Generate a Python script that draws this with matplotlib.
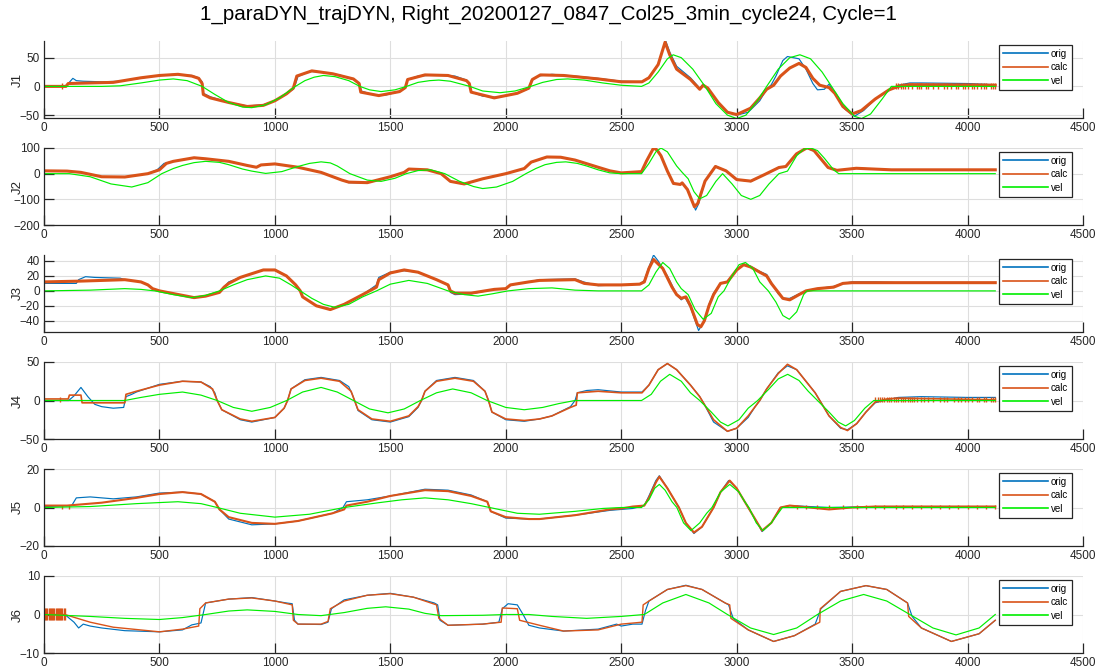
import numpy as np
import matplotlib.pyplot as plt

plt.rcParams['font.family'] = ['Liberation Sans', 'DejaVu Sans']

title = '1_paraDYN_trajDYN, Right_20200127_0847_Col25_3min_cycle24, Cycle=1'
joint_names = ['J1', 'J2', 'J3', 'J4', 'J5', 'J6']
ylims = [(-55, 79), (-200, 100), (-55, 48), (-50, 50), (-20, 20), (-10, 10)]
yticks = [[-50, 0, 50], [-200, -100, 0, 100], [-40, -20, 0, 20, 40],
          [-50, 0, 50], [-20, 0, 20], [-10, 0, 10]]
xticks = [0, 500, 1000, 1500, 2000, 2500, 3000, 3500, 4000, 4500]

# ---- J1 ----
j1_orig = [(0, 0), (95, 0), (105, 5), (125, 14), (140, 10), (170, 9), (250, 8), (330, 9), (430, 15),
           (500, 19), (560, 21), (640, 19), (670, 15), (685, 8), (690, -12), (720, -18), (800, -28),
           (880, -34), (950, -32), (1000, -25), (1050, -12), (1080, -5), (1090, 5), (1100, 17),
           (1150, 26), (1200, 25), (1280, 20), (1340, 12), (1365, 5), (1375, -8), (1420, -14),
           (1480, -15), (1540, -9), (1565, -3), (1575, 12), (1620, 18), (1700, 20), (1780, 18),
           (1830, 11), (1845, 3), (1852, -10), (1900, -17), (1960, -19), (2040, -13), (2100, -4),
           (2110, 10), (2140, 18), (2200, 21), (2300, 18), (2400, 14), (2500, 9), (2590, 8),
           (2620, 16), (2660, 38), (2692, 80), (2710, 60), (2740, 35), (2800, 15), (2840, -3),
           (2855, 4), (2880, -8), (2920, -30), (2960, -45), (3000, -50), (3050, -45), (3100, -25),
           (3130, -5), (3150, 3), (3170, 18), (3200, 45), (3220, 52), (3270, 48), (3300, 30),
           (3330, 5), (3350, -6), (3380, -5), (3400, 4), (3430, -15), (3470, -40), (3510, -52),
           (3550, -42), (3600, -22), (3650, -8), (3700, 2), (3750, 6), (3800, 6), (4000, 5), (4120, 3)]
j1_calc = [(0, 0), (95, 0), (105, 5), (200, 6), (300, 7), (420, 15), (500, 19), (580, 21), (640, 18),
           (670, 14), (685, 5), (690, -14), (720, -20), (800, -28), (880, -35), (950, -33), (1000, -25),
           (1050, -13), (1080, -3), (1095, 18), (1160, 27), (1250, 22), (1340, 13), (1365, 5),
           (1372, -10), (1450, -16), (1540, -9), (1565, -2), (1575, 12), (1650, 20), (1750, 19),
           (1830, 10), (1842, 5), (1850, -10), (1950, -20), (2050, -12), (2100, -3), (2115, 12),
           (2150, 20), (2250, 19), (2400, 13), (2500, 8), (2590, 8), (2620, 15), (2660, 38), (2690, 77),
           (2710, 55), (2740, 30), (2800, 12), (2840, -5), (2855, 2), (2875, -3), (2920, -28),
           (2960, -45), (3000, -49), (3060, -38), (3100, -20), (3130, -5), (3160, 2), (3190, 18),
           (3230, 32), (3270, 40), (3300, 33), (3330, 14), (3360, 2), (3400, -2), (3425, -12),
           (3460, -35), (3500, -48), (3540, -42), (3600, -22), (3660, -6), (3700, 0), (3750, 3),
           (4120, 2)]
j1_vel = [(0, 0), (250, 0), (330, 1), (420, 6), (500, 11), (560, 13), (620, 10), (685, 0), (740, -14),
          (800, -28), (860, -36), (900, -37), (960, -32), (1020, -20), (1089, 0), (1130, 10),
          (1170, 16), (1210, 19), (1260, 17), (1320, 10), (1368, 0), (1410, -6), (1460, -9),
          (1520, -6), (1570, 0), (1620, 7), (1670, 10), (1710, 11), (1760, 9), (1844, 0), (1900, -8),
          (1975, -11), (2040, -8), (2108, 0), (2160, 7), (2220, 12), (2268, 13), (2340, 11),
          (2420, 6), (2500, 2), (2588, 0), (2620, 6), (2660, 25), (2700, 48), (2725, 55), (2760, 50),
          (2810, 30), (2863, 0), (2910, -30), (2960, -50), (3000, -56), (3040, -50), (3090, -25),
          (3130, 0), (3180, 30), (3230, 50), (3274, 55), (3320, 48), (3370, 25), (3411, 0),
          (3460, -30), (3510, -52), (3541, -56), (3580, -48), (3630, -22), (3670, 0), (4120, 0)]
j1_spikes = [80, 3690, 3700, 3710, 3720, 3730, 3740, 3760, 3780, 3790, 3800, 3820, 3830, 3850, 3870,
             3900, 3910, 3930, 3950, 3960, 3980, 3990, 4000, 4020, 4030, 4040, 4060, 4070, 4080,
             4100, 4110, 4120]
j1_spike_range = (-5, 6)

# ---- J2 ----
j2_orig = [(0, 11), (100, 10), (160, 5), (250, -12), (350, -13), (450, 0), (490, 15), (520, 40),
           (560, 48), (650, 62), (700, 58), (800, 48), (880, 32), (920, 24), (940, 34), (1000, 38),
           (1100, 25), (1200, 5), (1290, -25), (1320, -35), (1400, -36), (1500, -12), (1560, 5),
           (1580, 18), (1660, 15), (1720, 0), (1760, -30), (1820, -42), (1900, -20), (2000, 0),
           (2080, 20), (2110, 45), (2178, 65), (2238, 64), (2300, 53), (2400, 25), (2451, 11),
           (2500, 3), (2588, 8), (2610, 50), (2640, 103), (2655, 95), (2672, 70), (2700, 10),
           (2726, -40), (2756, -42), (2764, -36), (2787, -62), (2822, -142), (2835, -118),
           (2863, -29), (2908, 30), (2954, 11), (3000, -23), (3061, -31), (3122, -3), (3183, 24),
           (3213, 28), (3259, 77), (3300, 100), (3335, 88), (3396, 24), (3434, 13), (3518, 22),
           (3670, 15), (4120, 15)]
j2_calc = [(0, 11), (100, 10), (160, 5), (250, -12), (350, -13), (450, 0), (500, 15), (530, 40),
           (560, 48), (650, 62), (700, 58), (800, 48), (880, 32), (920, 25), (940, 34), (1000, 38),
           (1100, 25), (1200, 5), (1290, -25), (1320, -33), (1400, -35), (1500, -12), (1560, 5),
           (1580, 18), (1660, 15), (1720, 0), (1760, -30), (1820, -40), (1900, -20), (2000, 0),
           (2080, 20), (2110, 45), (2178, 65), (2238, 64), (2300, 53), (2400, 25), (2451, 11),
           (2500, 3), (2588, 8), (2610, 50), (2640, 100), (2655, 92), (2672, 70), (2700, 10),
           (2726, -38), (2756, -42), (2764, -36), (2787, -62), (2817, -129), (2832, -115),
           (2863, -29), (2908, 28), (2954, 11), (3000, -23), (3061, -29), (3122, -3), (3183, 24),
           (3213, 28), (3259, 77), (3305, 101), (3335, 90), (3396, 24), (3434, 13), (3518, 21),
           (3670, 15), (4120, 15)]
j2_vel = [(0, 0), (110, 0), (200, -12), (290, -40), (380, -52), (450, -35), (510, 0), (560, 20),
          (600, 32), (650, 43), (700, 48), (760, 44), (800, 35), (860, 18), (900, 10), (960, 1),
          (1030, 8), (1100, 28), (1150, 40), (1200, 46), (1240, 42), (1270, 30), (1325, 0),
          (1400, -25), (1460, -30), (1520, -18), (1569, 0), (1620, 12), (1675, 15), (1736, 0),
          (1800, -30), (1860, -50), (1900, -58), (1960, -52), (2030, -30), (2087, 0), (2130, 20),
          (2170, 35), (2220, 44), (2260, 46), (2310, 40), (2350, 30), (2400, 15), (2451, 3),
          (2500, 0), (2588, 0), (2620, 40), (2650, 85), (2672, 100), (2700, 85), (2740, 30),
          (2764, 5), (2790, -20), (2815, -70), (2840, -98), (2870, -85), (2910, -30), (2939, 0),
          (2980, -40), (3020, -85), (3061, -100), (3100, -85), (3140, -40), (3183, 0), (3220, 10),
          (3260, 70), (3290, 95), (3320, 100), (3350, 90), (3380, 60), (3420, 15), (3442, 0),
          (4120, 0)]
j2_spikes = []
j2_spike_range = (0, 0)

# ---- J3 ----
j3_orig = [(0, 10), (140, 10), (150, 15), (180, 19), (220, 18), (330, 17), (350, 15), (420, 12),
           (450, 8), (470, 3), (500, 0), (600, -6), (650, -9), (700, -7), (760, -2), (780, 5),
           (800, 12), (850, 18), (950, 28), (1000, 28), (1050, 20), (1090, 8), (1110, 0), (1120, -8),
           (1180, -20), (1240, -24), (1300, -18), (1380, -5), (1440, 8), (1450, 18), (1500, 25),
           (1560, 27), (1620, 25), (1700, 15), (1750, 8), (1760, -2), (1780, -5), (1850, -4),
           (1950, 2), (2000, 3), (2020, 8), (2100, 12), (2146, 15), (2300, 16), (2337, 12),
           (2400, 7), (2500, 8), (2580, 9), (2600, 14), (2620, 32), (2640, 48), (2660, 40),
           (2700, 20), (2740, -5), (2760, -12), (2775, -8), (2800, -22), (2835, -53), (2860, -40),
           (2880, -18), (2900, -3), (2930, 10), (2960, 12), (3000, 28), (3030, 36), (3060, 33),
           (3100, 26), (3130, 22), (3145, 14), (3180, -4), (3200, -10), (3230, -10), (3270, -4),
           (3300, 0), (3350, 3), (3420, 6), (3460, 10), (3500, 12), (3600, 12), (3700, 11),
           (4120, 11)]
j3_calc = [(0, 12), (150, 13), (250, 14), (350, 15), (420, 12), (450, 8), (470, 3), (500, 0),
           (600, -6), (650, -9), (700, -7), (760, -2), (780, 5), (800, 10), (850, 18), (950, 28),
           (1000, 28), (1050, 20), (1090, 8), (1110, 0), (1120, -8), (1180, -20), (1240, -25),
           (1300, -18), (1380, -5), (1440, 5), (1450, 15), (1500, 24), (1560, 28), (1620, 25),
           (1700, 15), (1750, 8), (1760, 0), (1780, -3), (1850, -3), (1950, 2), (2000, 3), (2020, 8),
           (2100, 12), (2146, 14), (2300, 15), (2340, 10), (2400, 8), (2500, 8), (2580, 9),
           (2600, 12), (2620, 30), (2640, 42), (2680, 30), (2720, 5), (2740, -5), (2760, -10),
           (2780, -8), (2800, -20), (2830, -45), (2845, -48), (2860, -40), (2880, -20), (2900, -5),
           (2930, 10), (2960, 12), (3000, 28), (3030, 35), (3060, 32), (3100, 25), (3130, 20),
           (3150, 10), (3180, -2), (3200, -10), (3230, -12), (3270, -5), (3300, 0), (3350, 3),
           (3420, 5), (3460, 10), (3500, 11), (3600, 11), (4120, 11)]
j3_vel = [(0, 0), (200, 1), (350, 3), (420, 2), (480, 0), (560, -5), (640, -9), (700, -6), (760, 0),
          (820, 8), (880, 15), (960, 20), (1020, 17), (1070, 8), (1110, 0), (1160, -10), (1210, -18),
          (1260, -22), (1320, -18), (1380, -8), (1440, 0), (1500, 9), (1580, 14), (1660, 10),
          (1750, 0), (1820, -5), (1880, -7), (1940, -4), (2010, 0), (2100, 3), (2200, 4),
          (2300, 1), (2400, 0), (2588, 0), (2620, 8), (2650, 25), (2680, 38), (2710, 30),
          (2740, 12), (2760, 3), (2790, -5), (2820, -25), (2855, -38), (2890, -30), (2920, -8),
          (2945, 0), (2980, 20), (3010, 35), (3038, 38), (3070, 30), (3100, 12), (3137, 0),
          (3170, -15), (3200, -33), (3228, -38), (3260, -28), (3290, -5), (3305, 0), (4120, 0)]
j3_spikes = []
j3_spike_range = (0, 0)

# ---- J4 ----
j4_orig = [(0, 0), (107, 0), (130, 6), (160, 17), (190, 5), (220, -5), (250, -8), (300, -10),
           (345, -9), (355, 5), (380, 8), (400, 11), (500, 21), (600, 25), (680, 24), (720, 18),
           (740, 10), (750, 0), (770, -12), (850, -25), (900, -28), (1000, -22), (1040, -10),
           (1055, 0), (1070, 15), (1130, 27), (1200, 30), (1280, 26), (1320, 18), (1335, 8),
           (1345, 0), (1360, -13), (1420, -25), (1500, -28), (1580, -21), (1620, -9), (1635, 0),
           (1650, 12), (1700, 26), (1780, 30), (1860, 26), (1910, 12), (1925, 0), (1940, -15),
           (2000, -25), (2080, -27), (2146, -24), (2200, -20), (2280, -8), (2300, 0), (2310, 10),
           (2350, 13), (2400, 14), (2500, 11), (2590, 11), (2620, 20), (2660, 40), (2700, 48),
           (2740, 40), (2800, 20), (2840, 5), (2860, -5), (2900, -28), (2960, -40), (3000, -36),
           (3050, -22), (3080, -8), (3100, 0), (3130, 15), (3180, 36), (3220, 45), (3260, 40),
           (3300, 25), (3340, 10), (3360, 0), (3400, -20), (3450, -36), (3480, -38), (3520, -30),
           (3560, -15), (3600, -3), (3650, 1), (3700, 4), (3800, 5), (4000, 4), (4120, 4)]
j4_calc = [(0, 2), (105, 2), (110, 7), (160, 7), (165, -3), (200, -3), (350, -3), (355, 8),
           (400, 12), (500, 20), (600, 25), (680, 24), (730, 15), (750, 0), (770, -12), (850, -24),
           (900, -27), (1000, -22), (1040, -10), (1055, 0), (1070, 15), (1130, 26), (1200, 29),
           (1280, 25), (1330, 12), (1345, 0), (1360, -12), (1420, -24), (1500, -27), (1580, -20),
           (1620, -8), (1635, 0), (1650, 12), (1700, 25), (1780, 29), (1860, 25), (1910, 12),
           (1925, 0), (1940, -15), (2000, -24), (2080, -26), (2146, -24), (2200, -20), (2280, -9),
           (2305, -6), (2310, 10), (2400, 12), (2500, 10), (2590, 10), (2620, 20), (2660, 40),
           (2700, 48), (2740, 40), (2800, 20), (2840, 5), (2860, -5), (2900, -25), (2960, -40),
           (3000, -36), (3050, -20), (3080, -8), (3100, 0), (3130, 15), (3180, 35), (3220, 47),
           (3260, 40), (3300, 25), (3340, 10), (3360, 0), (3400, -20), (3450, -35), (3480, -39),
           (3520, -30), (3560, -15), (3600, -2), (3650, 2), (3700, 3), (4120, 1)]
j4_vel = [(0, 0), (350, 0), (420, 4), (500, 8), (600, 11), (680, 7), (750, 0), (820, -9),
          (900, -14), (980, -9), (1051, 0), (1120, 11), (1200, 17), (1270, 11), (1340, 0),
          (1410, -11), (1490, -16), (1560, -11), (1630, 0), (1700, 10), (1770, 15), (1850, 10),
          (1919, 0), (2000, -9), (2080, -12), (2160, -9), (2230, -4), (2300, 0), (2588, 0),
          (2630, 8), (2670, 25), (2710, 34), (2760, 25), (2800, 10), (2840, 0), (2890, -15),
          (2930, -28), (2962, -33), (3010, -25), (3050, -10), (3091, 0), (3140, 15), (3180, 28),
          (3221, 34), (3270, 26), (3310, 12), (3350, 0), (3400, -15), (3440, -28), (3472, -33),
          (3510, -26), (3555, -10), (3594, 0), (4120, 0)]
j4_spikes = [70, 3600, 3610, 3620, 3630, 3640, 3650, 3660, 3670, 3680, 3690, 3700, 3710, 3720, 3730,
             3740, 3750, 3760, 3770, 3780, 3800, 3810, 3830, 3850, 3880, 3900, 3910, 3940, 3960,
             3970, 3990, 4000, 4020, 4040, 4050, 4070, 4080, 4100, 4110, 4120]
j4_spike_range = (-2, 5)

# ---- J5 ----
j5_orig = [(0, 0.5), (120, 1), (140, 5), (200, 5.5), (300, 4.5), (400, 5.5), (500, 7.5), (600, 8),
           (680, 7), (740, 3), (760, -1), (800, -6), (900, -9), (1000, -8.5), (1100, -7), (1250, -3),
           (1295, 0), (1310, 3), (1400, 4), (1500, 6), (1650, 9.5), (1750, 9), (1850, 6.5),
           (1920, 3), (1935, -2), (2000, -5.5), (2100, -6), (2146, -6), (2300, -4), (2450, -1.5),
           (2550, -0.5), (2600, 1), (2620, 6), (2650, 14), (2665, 16.5), (2700, 10), (2750, 0),
           (2780, -8), (2815, -13.5), (2850, -10), (2900, 0), (2930, 8), (2965, 14), (3000, 10),
           (3050, 0), (3080, -6), (3110, -12.5), (3150, -8), (3190, 0), (3230, 1), (3400, 0),
           (3600, 0.5), (4120, 0.5)]
j5_calc = [(0, 1), (100, 1), (150, 1.5), (250, 2.5), (400, 5), (500, 7), (600, 8), (680, 7),
           (740, 3), (760, -1), (800, -5), (900, -8), (1000, -8.5), (1100, -7), (1250, -3),
           (1300, -1), (1310, 1), (1400, 3), (1500, 6), (1650, 9), (1750, 8.5), (1850, 6),
           (1920, 3), (1935, -2), (2000, -5), (2100, -6), (2146, -6), (2300, -4), (2450, -1),
           (2500, -0.5), (2550, 0.5), (2600, 1), (2620, 5), (2650, 13), (2665, 16), (2700, 10),
           (2750, 0), (2780, -8), (2815, -13), (2850, -10), (2900, 0), (2930, 8), (2970, 14),
           (3000, 10), (3050, 0), (3080, -6), (3110, -12), (3150, -8), (3190, 0), (3230, 1),
           (3400, -1), (3500, 0), (3600, 0.5), (4120, 0.5)]
j5_vel = [(0, 0), (200, 0.5), (400, 2), (580, 3), (680, 2), (750, 0), (850, -3), (1000, -5),
          (1150, -3.5), (1300, 0), (1450, 2.5), (1550, 4), (1650, 5), (1750, 4), (1850, 2),
          (1930, 0), (2050, -3), (2146, -3.5), (2300, -2), (2420, -0.5), (2500, 0), (2588, 0),
          (2620, 4), (2645, 10), (2665, 12), (2690, 9), (2720, 3), (2741, 0), (2770, -8),
          (2802, -12), (2840, -8), (2870, -3), (2893, 0), (2930, 8), (2970, 12), (3010, 8),
          (3035, 3), (3053, 0), (3085, -8), (3114, -12), (3150, -8), (3180, -3), (3198, 0),
          (4120, 0)]
j5_spikes = [80, 110, 3260, 3300, 3350, 3400, 3460, 3520, 3560, 3600, 3640, 3690, 3720, 3760, 3800,
             3840, 3880, 3920, 3960, 4000, 4040, 4080, 4120]
j5_spike_range = (-0.8, 1.5)

# ---- J6 ----
j6_orig = [(90, 0), (130, -2), (150, -3.5), (170, -2.5), (200, -3), (250, -3.5), (350, -4.2),
           (500, -4.5), (600, -4), (640, -2.7), (680, -2.2), (700, 3), (800, 4), (900, 4.4),
           (1000, 3.5), (1050, 3), (1075, 2.8), (1085, -1.5), (1100, -2.5), (1200, -2.6),
           (1230, -2), (1245, 1.5), (1300, 3.8), (1400, 5), (1500, 5.5), (1600, 4.5), (1690, 3),
           (1705, 2.5), (1715, -1.5), (1750, -2.8), (1900, -2.5), (1970, -2), (1985, 1.5),
           (2010, 2.8), (2050, 2.5), (2075, 0), (2100, -2.8), (2146, -3.5), (2250, -4.3),
           (2400, -3.8), (2480, -2.5), (2500, -3), (2550, -2.5), (2590, -2.5), (2605, 1),
           (2620, 3.5), (2700, 6.5), (2780, 7.6), (2850, 6.5), (2950, 3), (2965, 2.5), (2985, -1),
           (3050, -4), (3160, -7), (3250, -5.5), (3340, -2.5), (3365, 1.5), (3450, 6), (3560, 7.5),
           (3650, 6.5), (3740, 3), (3760, -0.5), (3800, -3.5), (3930, -7), (4050, -5), (4120, -1.5)]
j6_calc = [(0, 0), (90, 0), (200, -2), (300, -3.3), (500, -4.5), (600, -3.8), (670, -3),
           (675, 1.5), (700, 3), (800, 4), (900, 4.3), (1000, 3.5), (1075, 2.5), (1080, -1.5),
           (1100, -2.5), (1200, -2.5), (1230, -1.8), (1240, 1.5), (1300, 3.5), (1400, 5),
           (1500, 5.4), (1600, 4.5), (1700, 2.5), (1710, -1), (1750, -2.8), (1900, -2.5),
           (1980, -2), (1985, 1.7), (2050, 1.5), (2060, -1.5), (2146, -2.8), (2250, -4.3),
           (2400, -4), (2500, -2.5), (2590, -2), (2595, 2.5), (2620, 3.5), (2700, 6.5), (2780, 7.5),
           (2850, 6.5), (2950, 3), (2970, 2.5), (2975, -1), (3050, -4), (3160, -7), (3250, -5.5),
           (3360, -2), (3362, 1.5), (3450, 6), (3560, 7.5), (3650, 6.5), (3740, 3), (3745, -0.5),
           (3800, -3.5), (3930, -7), (4050, -5), (4120, -1.5)]
j6_vel = [(0, 0), (200, -0.5), (350, -1), (500, -1.3), (600, -0.8), (700, 0), (800, 0.9),
          (880, 1.2), (1000, 0.8), (1100, 0), (1200, -0.3), (1300, 0.5), (1400, 1.6), (1480, 2),
          (1580, 1.4), (1650, 0.3), (1720, -0.3), (1900, -0.2), (2000, 0), (2100, 0), (2200, -0.5),
          (2350, -1), (2500, -0.5), (2600, 0), (2680, 3), (2780, 5.2), (2880, 3), (2960, 0),
          (3060, -3.5), (3160, -5.2), (3260, -3.5), (3350, 0), (3450, 3.5), (3550, 5.2),
          (3650, 3.5), (3750, 0), (3850, -3.5), (3950, -5.3), (4050, -3.5), (4120, 0)]
j6_spikes = [0, 5, 10, 15, 20, 25, 30, 35, 40, 45, 50, 55, 60, 65, 70, 75, 80, 85, 90]
j6_spike_range = (-1.3, 1.6)

orig_all = [j1_orig, j2_orig, j3_orig, j4_orig, j5_orig, j6_orig]
calc_all = [j1_calc, j2_calc, j3_calc, j4_calc, j5_calc, j6_calc]
vel_all = [j1_vel, j2_vel, j3_vel, j4_vel, j5_vel, j6_vel]
spikes_all = [j1_spikes, j2_spikes, j3_spikes, j4_spikes, j5_spikes, j6_spikes]
spike_ranges = [j1_spike_range, j2_spike_range, j3_spike_range, j4_spike_range,
                j5_spike_range, j6_spike_range]
calc_widths = [2.2, 2.2, 2.2, 1.2, 1.5, 1.0]

c_orig = '#0072BD'
c_calc = '#D95319'
c_vel = '#00ee00'
dark = '#262626'

W, H = 1096, 668
fig = plt.figure(figsize=(W / 100, H / 100), dpi=100)
fig.text(0.5, 1 - 14 / H, title, ha='center', va='center', fontsize=14.8, color='black')

ax_left, ax_right = 44, 1083
ax_h = 77
tops = [41, 148, 255, 362, 469, 576]

for i in range(6):
    ax = fig.add_axes([ax_left / W, 1 - (tops[i] + ax_h) / H, (ax_right - ax_left) / W, ax_h / H])
    o = np.array(orig_all[i])
    c = np.array(calc_all[i])
    v = np.array(vel_all[i])
    ax.plot(o[:, 0], o[:, 1], color=c_orig, lw=0.85, label='orig')
    ax.plot(c[:, 0], c[:, 1], color=c_calc, lw=calc_widths[i], label='calc')
    if spikes_all[i]:
        lo, hi = spike_ranges[i]
        ax.vlines(spikes_all[i], lo, hi, color=c_calc, lw=1.0)
    ax.plot(v[:, 0], v[:, 1], color=c_vel, lw=0.85, label='vel')

    ax.set_xlim(0, 4500)
    ax.set_ylim(*ylims[i])
    ax.set_xticks(xticks)
    ax.set_yticks(yticks[i])
    ax.grid(True, color='#dedede', lw=0.8)
    ax.set_axisbelow(True)
    for s in ['top', 'right']:
        ax.spines[s].set_visible(False)
    for s in ['left', 'bottom']:
        ax.spines[s].set_color(dark)
        ax.spines[s].set_linewidth(0.9)
    ax.tick_params(direction='in', length=7, width=0.9, colors=dark, labelsize=8.5, pad=3)
    ax.set_ylabel(joint_names[i], fontsize=9.5, color=dark, labelpad=2)
    ax.yaxis.set_label_coords(-20 / (ax_right - ax_left), 0.5)

    leg = ax.legend(loc='upper right', bbox_to_anchor=(1 - 11 / (ax_right - ax_left), 1 - 4 / ax_h),
                    borderaxespad=0, fontsize=7, handlelength=4.6, labelspacing=0.35,
                    borderpad=0.4, handletextpad=0.3, fancybox=False, framealpha=1)
    leg.get_frame().set_edgecolor(dark)
    leg.get_frame().set_linewidth(0.9)
    for line in leg.get_lines():
        line.set_linewidth(1.2)

fig.savefig('out.png', dpi=100)
